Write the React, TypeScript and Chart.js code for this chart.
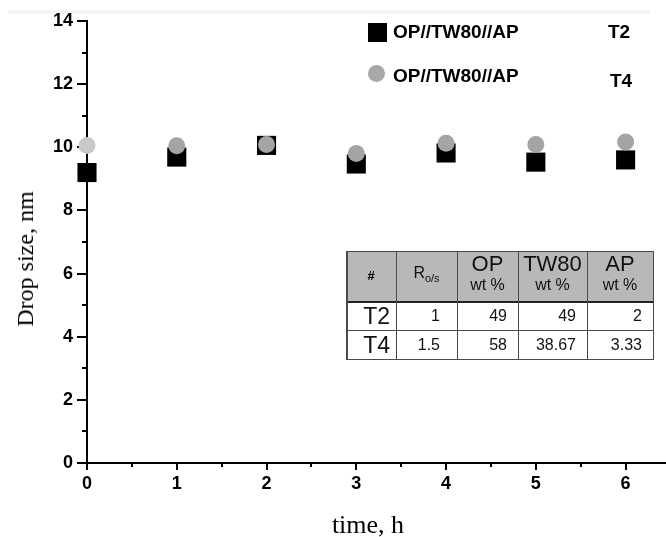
import React, { useEffect, useRef } from "react";
import { Chart, registerables } from "chart.js";

Chart.register(...registerables);

// ---- data ----
const times = [0, 1, 2, 3, 4, 5, 6];
const sizeT2 = [9.2, 9.69, 10.06, 9.47, 9.82, 9.53, 9.6];
const sizeT4 = [10.06, 10.05, 10.09, 9.8, 10.13, 10.09, 10.17];
const xTickValues = [0, 0.5, 1, 1.5, 2, 2.5, 3, 3.5, 4, 4.5, 5, 5.5, 6];
const yTickValues = [0, 1, 2, 3, 4, 5, 6, 7, 8, 9, 10, 11, 12, 13, 14];
const legendLabels = ["OP//TW80//AP", "OP//TW80//AP"];
const legendTags = ["T2", "T4"];
const tableHeader = ["#", "R", "OP", "TW80", "AP"];
const tableRows = [
  ["T2", "1", "49", "49", "2"],
  ["T4", "1.5", "58", "38.67", "3.33"],
];

const tickFont = { family: "'Liberation Sans', Arial, sans-serif", size: 18, weight: "bold" as const };

const customTicks = {
  id: "customTicks",
  beforeDatasetsDraw(chart: any) {
    const { ctx, chartArea } = chart;
    const xs = chart.scales.x;
    const ys = chart.scales.y;
    ctx.save();
    ctx.strokeStyle = "#000";
    ctx.lineWidth = 2;
    ctx.beginPath();
    ys.ticks.forEach((t: any) => {
      const y = Math.round(ys.getPixelForValue(t.value));
      const len = t.value % 2 === 0 ? 10 : 5;
      ctx.moveTo(chartArea.left - len, y);
      ctx.lineTo(chartArea.left, y);
    });
    xs.ticks.forEach((t: any) => {
      const x = Math.round(xs.getPixelForValue(t.value));
      const len = Number.isInteger(t.value) ? 7 : 4;
      ctx.moveTo(x, chartArea.bottom);
      ctx.lineTo(x, chartArea.bottom + len);
    });
    ctx.stroke();
    ctx.restore();
  },
};

export default function App() {
  const ref = useRef<HTMLCanvasElement | null>(null);

  useEffect(() => {
    if (!ref.current) return;
    const chart = new Chart(ref.current, {
      type: "scatter",
      data: {
        datasets: [
          {
            label: "T4",
            data: times.map((t, i) => ({ x: t, y: sizeT4[i] })),
            pointStyle: "circle",
            pointRadius: 8.5,
            pointBackgroundColor: times.map((_, i) => (i === 0 ? "#c8c8c8" : "#a4a4a4")),
            pointBorderWidth: 0,
            order: 0,
            clip: false,
          },
          {
            label: "T2",
            data: times.map((t, i) => ({ x: t, y: sizeT2[i] })),
            pointStyle: "rect",
            pointRadius: 13.5,
            pointBackgroundColor: "#000",
            pointBorderWidth: 0,
            order: 1,
            clip: false,
          },
        ],
      },
      options: {
        responsive: false,
        animation: false,
        devicePixelRatio: 1,
        layout: { autoPadding: false, padding: { top: 21, right: 0, left: 0, bottom: 0 } },
        plugins: { legend: { display: false }, tooltip: { enabled: false } },
        scales: {
          x: {
            type: "linear",
            min: 0,
            max: 6.45,
            afterBuildTicks: (s: any) => {
              s.ticks = xTickValues.map((v) => ({ value: v }));
            },
            afterFit: (s: any) => {
              s.height = 74;
              s.paddingLeft = 0;
              s.paddingRight = 0;
            },
            grid: { display: false, drawTicks: false },
            border: { display: true, color: "#000", width: 2 },
            ticks: {
              autoSkip: false,
              maxRotation: 0,
              padding: 10,
              color: "#000",
              font: tickFont,
              callback: (v: any) => (Number.isInteger(v) ? String(v) : ""),
            },
          },
          y: {
            type: "linear",
            min: 0,
            max: 14,
            afterBuildTicks: (s: any) => {
              s.ticks = yTickValues.map((v) => ({ value: v }));
            },
            afterFit: (s: any) => {
              s.width = 87;
              s.paddingTop = 0;
              s.paddingBottom = 0;
            },
            grid: { display: false, drawTicks: false },
            border: { display: true, color: "#000", width: 2 },
            ticks: {
              autoSkip: false,
              padding: 14,
              color: "#000",
              font: tickFont,
              callback: (v: any) => (v % 2 === 0 ? String(v) : ""),
            },
          },
        },
      },
      plugins: [customTicks],
    });
    return () => chart.destroy();
  }, []);

  const cols = [346, 396, 457, 518, 587, 653];
  const rows = [251, 301, 330, 359];
  const sans = "'Liberation Sans', Arial, sans-serif";
  const serif = "'Liberation Serif', 'Times New Roman', serif";

  return (
    <div style={{ position: "fixed", left: 0, top: 0, width: 666, height: 537, background: "#fff", overflow: "hidden" }}>
      <div style={{ position: "absolute", left: 8, top: 10, width: 642, height: 4, background: "#f3f3f3" }} />
      <canvas ref={ref} width={666} height={537} style={{ display: "block", position: "absolute", left: 0, top: 0 }} />

      {/* axis titles */}
      <div
        style={{
          position: "absolute", left: 25, top: 259, transform: "translate(-50%,-50%) rotate(-90deg)",
          fontFamily: serif, fontSize: 24, lineHeight: "24px", whiteSpace: "nowrap", color: "#000",
        }}
      >
        Drop size, nm
      </div>
      <div
        style={{
          position: "absolute", left: 368, top: 525, transform: "translate(-50%,-50%)",
          fontFamily: serif, fontSize: 26, lineHeight: "26px", whiteSpace: "nowrap", color: "#000",
        }}
      >
        time, h
      </div>

      {/* legend */}
      <div style={{ position: "absolute", left: 368, top: 23, width: 19, height: 19, background: "#000" }} />
      <div style={{ position: "absolute", left: 368, top: 65, width: 17, height: 17, borderRadius: "50%", background: "#a8a8a8" }} />
      {legendLabels.map((l, i) => (
        <div key={"ll" + i} style={{ position: "absolute", left: 393, top: 22 + i * 44, fontFamily: sans, fontWeight: "bold", fontSize: 19, lineHeight: "19px", whiteSpace: "nowrap", color: "#000" }}>
          {l}
        </div>
      ))}
      {legendTags.map((l, i) => (
        <div key={"lt" + i} style={{ position: "absolute", left: 608 + i * 2, top: 22 + i * 49, fontFamily: sans, fontWeight: "bold", fontSize: 19, lineHeight: "19px", whiteSpace: "nowrap", color: "#000" }}>
          {l}
        </div>
      ))}

      {/* table */}
      <div style={{ position: "absolute", left: cols[0], top: rows[0], width: cols[5] - cols[0], height: rows[1] - rows[0], background: "#b8b8b8" }} />
      {rows.map((y, i) => (
        <div key={"hr" + i} style={{ position: "absolute", left: cols[0], top: y, width: cols[5] - cols[0] + 1, height: i === 1 ? 2 : 1, background: i === 1 ? "#222" : "#4a4a4a" }} />
      ))}
      {cols.map((x, i) => (
        <div key={"vr" + i} style={{ position: "absolute", left: x, top: rows[0], width: i === 0 ? 2 : 1, height: rows[3] - rows[0] + 1, background: "#4a4a4a" }} />
      ))}
      <div style={{ position: "absolute", left: cols[0], width: cols[1] - cols[0], top: 268, textAlign: "center", fontFamily: sans, fontWeight: "bold", fontSize: 13, lineHeight: "16px" }}>
        {tableHeader[0]}
      </div>
      <div style={{ position: "absolute", left: cols[1], width: cols[2] - cols[1], top: 264, textAlign: "center", fontFamily: sans, fontSize: 16, lineHeight: "18px", color: "#111" }}>
        {tableHeader[1]}
        <span style={{ fontSize: 11, position: "relative", top: 4 }}>o/s</span>
      </div>
      {tableHeader.slice(2).map((h, j) => (
        <div key={"th" + j} style={{ position: "absolute", left: cols[j + 2], width: cols[j + 3] - cols[j + 2], top: 253, textAlign: "center", fontFamily: sans, color: "#111" }}>
          <div style={{ fontSize: 22, lineHeight: "22px" }}>{h}</div>
          <div style={{ fontSize: 16, lineHeight: "16px", marginTop: 2 }}>wt %</div>
        </div>
      ))}
      {tableRows.map((r, i) =>
        r.map((c, j) =>
          j === 0 ? (
            <div key={"c" + i + j} style={{ position: "absolute", left: cols[0], width: cols[1] - cols[0] - 6, top: rows[i + 1] + 3, textAlign: "right", fontFamily: sans, fontSize: 23, lineHeight: "24px", color: "#111" }}>
              {c}
            </div>
          ) : (
            <div key={"c" + i + j} style={{ position: "absolute", left: cols[j], width: cols[j + 1] - cols[j] - (j === 1 ? 17 : 11), top: rows[i + 1] + 6, textAlign: "right", fontFamily: sans, fontSize: 16, lineHeight: "18px", color: "#111" }}>
              {c}
            </div>
          )
        )
      )}
    </div>
  );
}
